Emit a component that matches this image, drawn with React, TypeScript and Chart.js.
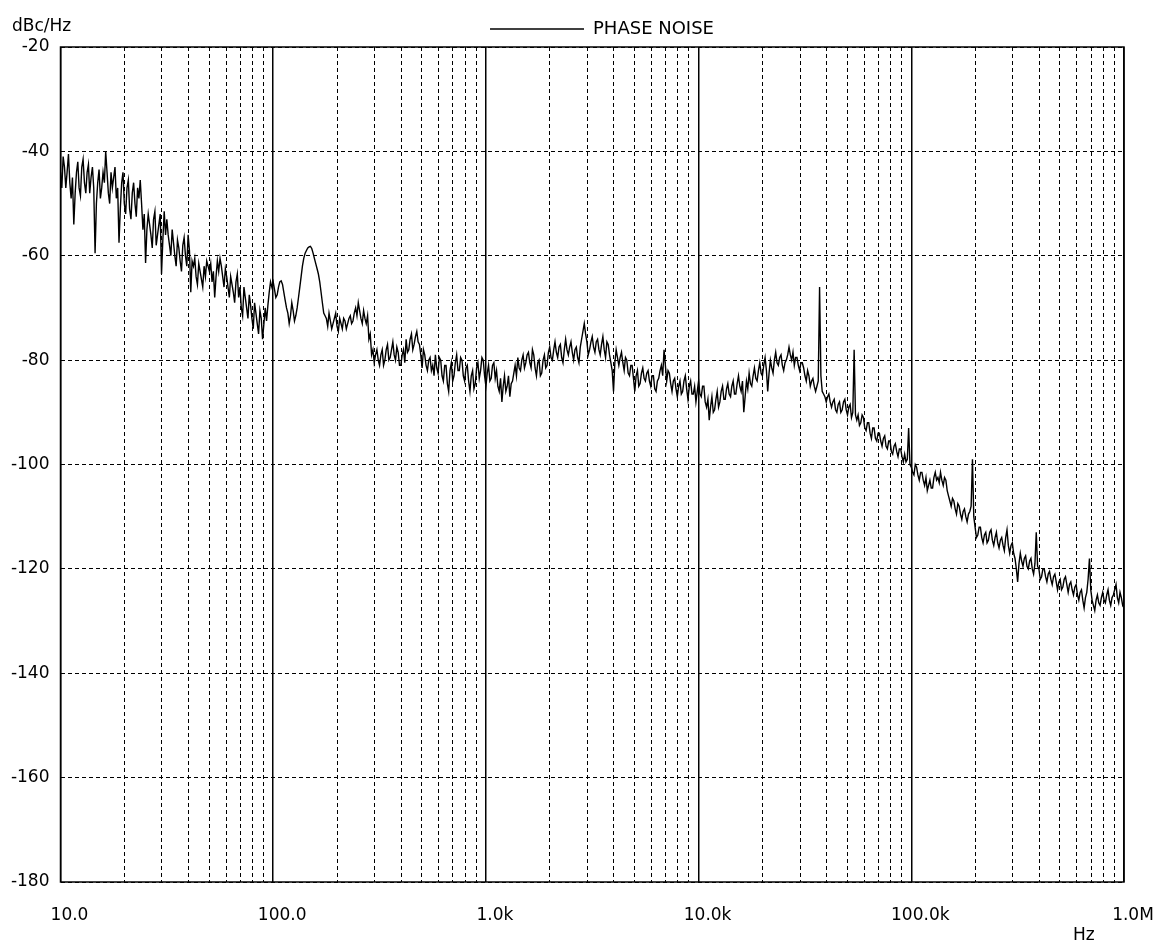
import React, { useEffect, useRef } from 'react';
import { Chart, registerables } from 'chart.js';

Chart.register(...registerables);

// Sample positions inside each decade (mantissa of the frequency)
const SAMPLE_MANTISSA = [
  1.000, 1.0145, 1.029, 1.044, 1.059, 1.074, 1.090, 1.106, 1.122, 1.138, 1.155, 1.172, 1.189, 1.206, 1.223, 1.241, 1.259, 1.277, 1.296, 1.315,
  1.334, 1.353, 1.372, 1.392, 1.413, 1.433, 1.454, 1.475, 1.496, 1.518, 1.540, 1.562, 1.585, 1.608, 1.631, 1.655, 1.679, 1.703, 1.728, 1.753,
  1.778, 1.804, 1.830, 1.857, 1.884, 1.911, 1.939, 1.967, 1.995, 2.024, 2.054, 2.084, 2.113, 2.144, 2.175, 2.207, 2.239, 2.271, 2.304, 2.337,
  2.371, 2.405, 2.441, 2.476, 2.512, 2.548, 2.585, 2.623, 2.661, 2.700, 2.738, 2.778, 2.818, 2.859, 2.901, 2.943, 2.985, 3.028, 3.073, 3.118,
  3.162, 3.208, 3.255, 3.302, 3.350, 3.399, 3.447, 3.497, 3.548, 3.600, 3.652, 3.705, 3.758, 3.813, 3.868, 3.924, 3.981, 4.039, 4.097, 4.156,
  4.217, 4.278, 4.340, 4.403, 4.467, 4.532, 4.597, 4.664, 4.732, 4.801, 4.870, 4.941, 5.012, 5.085, 5.158, 5.233, 5.309, 5.386, 5.464, 5.543,
  5.623, 5.705, 5.788, 5.872, 5.957, 6.043, 6.131, 6.220, 6.310, 6.402, 6.494, 6.588, 6.683, 6.780, 6.879, 6.979, 7.079, 7.182, 7.286, 7.392,
  7.499, 7.608, 7.718, 7.830, 7.943, 8.058, 8.175, 8.294, 8.414, 8.536, 8.660, 8.786, 8.913, 9.042, 9.173, 9.306, 9.441, 9.578, 9.716, 9.857,
];
const DECADE_START_HZ = [10, 100, 1000, 10000, 100000];

// Phase noise (dBc/Hz), one value per sample position
const NOISE_10HZ_DECADE = [
  -44, -47, -41, -43, -47, -44, -40.5, -46, -49, -45, -54, -48, -44, -42, -47, -48.5, -43, -41.5, -46, -48,
  -44, -42.5, -48, -45, -43, -47, -59.5, -50, -46, -43.5, -49, -47, -44, -46, -40, -44, -48, -50, -44, -47,
  -45, -43, -49, -47, -57.5, -51, -46, -44, -50, -52, -47, -45.5, -51, -53, -48, -46, -50, -52.5, -47, -49,
  -45.5, -50, -55, -52, -61.4, -55, -52, -54, -56, -58.5, -53, -51.5, -58, -56, -54, -52, -63.5, -57, -51.5, -56,
  -53, -56, -58, -60, -55, -57.5, -60, -62, -57, -58.5, -61, -63, -58, -56.5, -60, -62, -56, -59, -67, -61,
  -62, -60.5, -64, -65.5, -61.5, -63, -64.5, -66, -62, -64, -61, -62, -63, -61.5, -65, -63, -68, -64, -61, -63,
  -60.5, -62, -64, -66, -62.5, -64, -66, -68, -64, -65.5, -67, -69, -65, -63.5, -68, -66, -70, -71.5, -66, -68,
  -70, -72, -67.5, -69.5, -72, -74, -69, -71, -73, -75, -70.5, -72, -76, -73, -70, -72.5, -69.5, -67, -65, -66,
];
const NOISE_100HZ_DECADE = [
  -65, -66.5, -68, -67.5, -66, -65, -64.8, -65.5, -67, -68.5, -70, -71, -73, -71.5, -69, -70.5, -72.5, -71.5, -70, -68,
  -66, -64, -62, -60.5, -59.5, -59, -58.5, -58.3, -58.2, -58.6, -59.5, -60.5, -61.5, -62.5, -63.5, -65, -67, -69, -71, -71.5,
  -72, -73.5, -71, -72.5, -74, -73, -72, -71, -73.5, -74.5, -72, -73, -74, -72, -72.5, -74, -73, -72, -71.5, -73,
  -72.5, -71, -70, -71.5, -69, -70.5, -72, -73, -70.5, -72, -73, -71.5, -76, -75, -79, -78, -80.5, -79, -78, -80,
  -81, -79, -78, -81, -80, -78, -77, -80, -79.5, -78, -76.5, -79, -80, -77.5, -78.5, -81, -81, -79, -78, -80.5,
  -76, -78.5, -78, -76, -75, -78, -77, -75.5, -74.5, -76.5, -77, -79, -81.5, -78, -79, -81, -82, -80, -79.5, -82,
  -81, -83, -79, -81.5, -82.5, -79.5, -80, -83, -84, -81, -81, -84.5, -86, -82, -80.5, -84, -83, -80.5, -79, -82,
  -82, -79.5, -80, -83, -84, -81.5, -81, -84, -86, -83, -82, -85.5, -84.5, -81.5, -80.5, -83.5, -82, -79.5, -80, -83,
];
const NOISE_1KHZ_DECADE = [
  -85, -82.5, -81, -84, -83.5, -81, -80.5, -83.5, -82, -85, -86, -83.5, -88, -85, -83, -86, -85, -83, -87, -84.5,
  -84, -82.5, -81, -83, -79.5, -81.5, -82, -80, -79, -81.5, -80.5, -79, -78.5, -80.5, -81.5, -78, -79, -81.5, -83, -80.5,
  -80, -83, -82.5, -80, -79, -81.5, -81, -78.5, -77.5, -79.5, -80, -78, -76.5, -78.5, -79.5, -77.5, -77, -79.5, -80.5, -78,
  -76, -78, -79, -77.5, -76.5, -78.5, -80, -78, -77.5, -79.5, -80.5, -77.5, -76, -74.5, -73, -75, -76.5, -79, -78, -76.5,
  -75.5, -77.5, -78.5, -76.5, -76, -78, -79, -77, -75.5, -78, -79.5, -76.5, -77, -79, -80.5, -82, -86, -80.5, -78, -79.5,
  -81, -79.5, -78.5, -80.5, -82, -79.5, -80, -82.5, -83, -81, -81, -83.5, -86, -83, -82, -85, -84.5, -82.5, -81.5, -83.5,
  -84, -82.5, -82, -84, -85, -83, -83, -85.5, -86, -84, -83.5, -82, -81, -83, -78, -81, -84, -82, -82.5, -84.5,
  -86, -84, -83.5, -85.5, -87, -85, -84, -86.5, -86, -84, -83, -85.5, -87.5, -85, -84, -86.5, -86.5, -85, -88, -86,
];
const NOISE_10KHZ_DECADE = [
  -84, -86.5, -87, -85, -85, -88, -89, -87.5, -91.5, -89, -87, -90, -89.5, -87.5, -86, -89, -88, -86, -85, -87.5,
  -87.5, -85.5, -84.5, -86.5, -87, -85, -84, -86.5, -86.5, -84.5, -83, -85, -86, -84, -90, -87, -84, -85.5, -82.5, -84.5,
  -85, -83, -81.5, -83.5, -84, -82, -80.5, -82.5, -83, -81, -79.5, -82, -86, -82.5, -80, -81.5, -82.5, -80, -78.5, -80.5,
  -81, -79.5, -79, -81, -82, -80.5, -80, -79, -77.5, -79, -80, -78.5, -81, -79.5, -79.5, -81, -82, -80.5, -80.5, -81.5,
  -83, -84, -82, -83, -85, -84, -83.5, -85, -86, -85, -84, -66, -83, -86, -86.5, -87, -88, -87, -86.5, -88,
  -89, -88, -87.5, -89.5, -90, -88.5, -88, -90, -89.5, -88, -87.5, -89.5, -90.5, -89, -88.5, -91, -90, -78, -90.5, -91.5,
  -90.5, -92.5, -92, -90.5, -91, -93, -93.5, -92, -92, -94, -95, -93, -93, -95, -95.5, -94, -94, -95.5, -96.5, -95,
  -94.5, -96.5, -97, -95.5, -95.5, -97.5, -98, -96.5, -96, -97.5, -98.5, -97, -97, -98.5, -99.5, -98, -99.5, -99, -93, -100,
];
const NOISE_100KHZ_DECADE = [
  -100.5, -101.5, -102, -100, -100.5, -102, -103, -101.5, -101.5, -103, -104, -102.5, -105, -104, -103, -104.5, -104.5, -102.5, -101.5, -103,
  -102.5, -103.5, -101.5, -103, -104, -102.5, -103, -105, -106, -107, -108, -106.5, -107, -108.5, -109.5, -107.5, -108, -109.5, -110.5, -109,
  -108.5, -110, -111, -109.5, -109, -108, -99, -110, -112, -114, -113.5, -112, -112, -114, -115, -113.5, -113, -115, -114.5, -113,
  -112.5, -114.5, -115.5, -114, -113, -115, -116, -114.5, -114, -115.5, -116.5, -114, -112.5, -115.5, -117, -115.5, -115, -117, -118, -120,
  -122.5, -119, -117, -118.5, -119.5, -118, -117.5, -119.5, -120, -118.5, -118, -120, -121, -119, -113, -119.5, -120, -122, -121.5, -120,
  -120, -121.5, -122.5, -121, -120.5, -122, -123, -121.5, -121, -122.5, -124, -122.5, -122, -124, -123.5, -122, -121.5, -123, -124.5, -123,
  -122.5, -124, -125, -123.5, -123, -125, -126, -124.5, -124, -126, -127.5, -125.5, -124.5, -122, -118, -124, -126, -127, -128, -126,
  -125, -126.5, -127, -125.5, -124.5, -126, -126.5, -125, -124, -126, -127, -125.5, -125, -124, -123, -125.5, -126.5, -124.5, -125.5, -127,
];
const END_FREQ_HZ = 1000000;
const END_NOISE_DBC = -126.5;

const X_MIN = 10;
const X_MAX = 1000000;
const X_TICK_VALUES = [10, 100, 1000, 10000, 100000, 1000000];
const X_TICK_LABELS = ['10.0', '100.0', '1.0k', '10.0k', '100.0k', '1.0M'];
const X_MINOR_STEPS = [2, 3, 4, 5, 6, 7, 8, 9];
const Y_MIN = -180;
const Y_MAX = -20;
const Y_STEP = 20;

const SERIES_LABEL = 'PHASE NOISE';
const Y_UNIT = 'dBc/Hz';
const X_UNIT = 'Hz';

const FONT_FAMILY = '"DejaVu Sans", "Liberation Sans", sans-serif';

const DECADE_SERIES = [
  NOISE_10HZ_DECADE,
  NOISE_100HZ_DECADE,
  NOISE_1KHZ_DECADE,
  NOISE_10KHZ_DECADE,
  NOISE_100KHZ_DECADE,
];

function buildPoints() {
  const pts: { x: number; y: number }[] = [];
  DECADE_SERIES.forEach((vals, d) => {
    vals.forEach((db, j) => {
      pts.push({ x: DECADE_START_HZ[d] * SAMPLE_MANTISSA[j], y: db });
    });
  });
  pts.push({ x: END_FREQ_HZ, y: END_NOISE_DBC });
  return pts;
}

const minorTickValues = () => {
  const out: number[] = [];
  DECADE_START_HZ.forEach((base) => X_MINOR_STEPS.forEach((s) => out.push(base * s)));
  return out;
};

const frameAndUnits = {
  id: 'frameAndUnits',
  afterLayout(chart: any) {
    // centre the legend over the plot the way the original does
    const lg = chart.legend;
    if (lg) {
      lg.left += 22;
      lg.right += 22;
      lg.top += 1;
      lg.bottom += 1;
    }
  },
  beforeDatasetsDraw(chart: any) {
    const { ctx, chartArea: a } = chart;
    ctx.save();
    ctx.strokeStyle = '#000';
    ctx.lineWidth = 1.5;
    ctx.setLineDash([]);
    ctx.strokeRect(a.left, a.top, a.right - a.left, a.bottom - a.top);
    ctx.restore();
  },
  afterDraw(chart: any) {
    const { ctx, chartArea: a } = chart;
    ctx.save();
    ctx.fillStyle = '#000';
    ctx.font = `17px ${FONT_FAMILY}`;
    ctx.textBaseline = 'middle';
    ctx.textAlign = 'left';
    ctx.fillText(Y_UNIT, 12, a.top - 20);
    ctx.fillText(X_UNIT, a.right - 51, a.bottom + 54);
    ctx.restore();
  },
};

export default function App() {
  const canvasRef = useRef<HTMLCanvasElement | null>(null);

  useEffect(() => {
    document.body.style.margin = '0';
    const canvas = canvasRef.current;
    if (!canvas) return;
    const chart = new Chart(canvas, {
      type: 'line',
      data: {
        datasets: [
          {
            label: SERIES_LABEL,
            data: buildPoints(),
            borderColor: '#000',
            backgroundColor: '#000',
            borderWidth: 1.4,
            pointRadius: 0,
            tension: 0,
            fill: false,
          },
        ],
      },
      options: {
        responsive: false,
        animation: false,
        devicePixelRatio: 1,
        events: [],
        layout: { padding: { left: 0, right: 0, top: 0, bottom: 0 } },
        plugins: {
          tooltip: { enabled: false },
          legend: {
            display: true,
            position: 'top',
            labels: {
              usePointStyle: true,
              pointStyle: 'line',
              pointStyleWidth: 94,
              padding: 19,
              color: '#000',
              font: { family: FONT_FAMILY, size: 18 },
            },
          },
        },
        scales: {
          x: {
            type: 'logarithmic',
            position: 'bottom',
            min: X_MIN,
            max: X_MAX,
            afterBuildTicks: (scale: any) => {
              scale.ticks = X_TICK_VALUES.map((v) => ({ value: v, major: true }));
            },
            afterFit: (scale: any) => {
              scale.height = 62;
              scale.paddingLeft = 0;
              scale.paddingRight = 0;
            },
            ticks: {
              autoSkip: false,
              maxRotation: 0,
              minRotation: 0,
              padding: 23,
              labelOffset: 9,
              color: '#000',
              font: { family: FONT_FAMILY, size: 17 },
              callback: (value: any) => {
                const i = X_TICK_VALUES.indexOf(Number(value));
                return i >= 0 ? X_TICK_LABELS[i] : '';
              },
            },
            grid: { color: '#000', lineWidth: 1.5, drawTicks: false },
            border: { display: false },
          },
          xMinor: {
            type: 'logarithmic',
            position: 'bottom',
            min: X_MIN,
            max: X_MAX,
            afterBuildTicks: (scale: any) => {
              scale.ticks = minorTickValues().map((v) => ({ value: v }));
            },
            afterFit: (scale: any) => {
              scale.height = 0;
              scale.paddingLeft = 0;
              scale.paddingRight = 0;
            },
            ticks: { display: false, autoSkip: false },
            grid: { color: '#000', lineWidth: 1, drawTicks: false },
            border: { display: false, dash: [4, 3] },
          },
          y: {
            type: 'linear',
            position: 'left',
            min: Y_MIN,
            max: Y_MAX,
            afterFit: (scale: any) => {
              scale.width = 60.5;
              scale.paddingTop = 0;
              scale.paddingBottom = 0;
            },
            ticks: {
              stepSize: Y_STEP,
              padding: 11,
              color: '#000',
              font: { family: FONT_FAMILY, size: 17 },
              callback: (value: any) => String(value),
            },
            grid: { color: '#000', lineWidth: 1, drawTicks: false },
            border: { display: false, dash: [4, 3] },
          },
          yPad: {
            type: 'linear',
            position: 'right',
            display: true,
            afterFit: (scale: any) => {
              scale.width = 36;
              scale.paddingTop = 0;
              scale.paddingBottom = 0;
            },
            ticks: { display: false },
            grid: { display: false, drawTicks: false },
            border: { display: false },
          },
        },
      },
      plugins: [frameAndUnits],
    } as any);
    return () => chart.destroy();
  }, []);

  return (
    <div style={{ width: 1160, height: 944 }}>
      <canvas ref={canvasRef} width={1160} height={944} style={{ display: 'block' }} />
    </div>
  );
}
